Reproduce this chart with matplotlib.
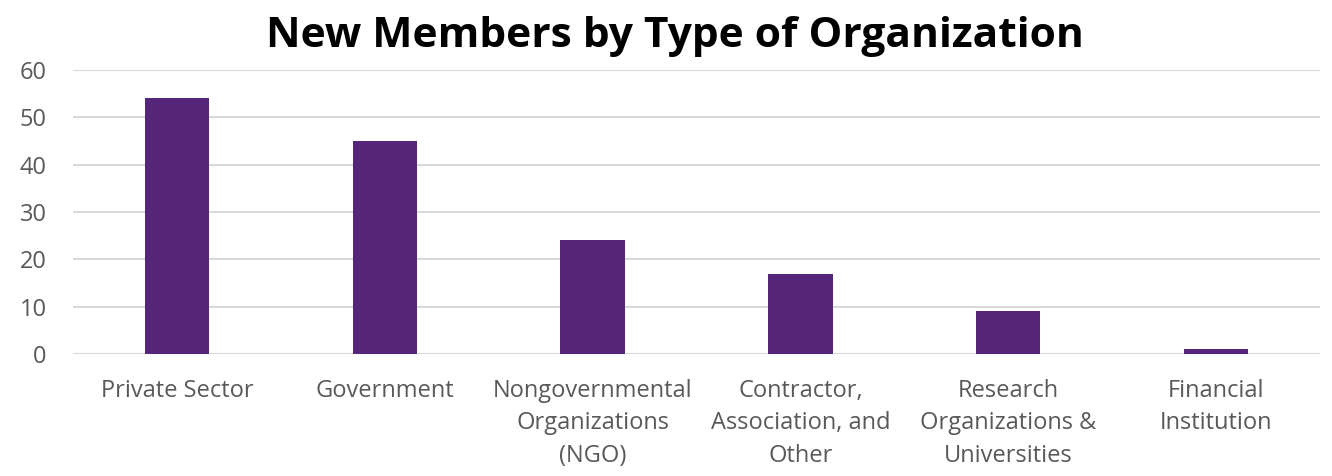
import numpy as np
import matplotlib.pyplot as plt

categories = ["Private Sector", "Government", "Nongovernmental\nOrganizations\n(NGO)",
              "Contractor,\nAssociation, and\nOther", "Research\nOrganizations &\nUniversities",
              "Financial\nInstitution"]
members = [54, 45, 24, 17, 9, 1]
yticks = [0, 10, 20, 30, 40, 50, 60]

plt.rcParams['font.family'] = ['Open Sans', 'DejaVu Sans']

fig = plt.figure(figsize=(13.32, 4.76), dpi=100)
ax = fig.add_axes([0.0548, 0.2563, 0.9362, 0.5967])

x = np.arange(len(categories))
ax.bar(x, members, width=0.31, color="#55267a", zorder=3)

ax.set_xlim(-0.5, len(categories) - 0.5)
ax.set_ylim(0, 60)
ax.set_yticks(yticks)
ax.set_xticks(x)
ax.set_xticklabels(categories, linespacing=1.47)
ax.grid(axis="y", color="#d9d9d9", linewidth=1.5, zorder=0)
for s in ax.spines.values():
    s.set_visible(False)
ax.tick_params(axis="both", length=0, labelsize=17, labelcolor="#595959")
ax.tick_params(axis="y", pad=19)
ax.tick_params(axis="x", pad=18)
for lbl in ax.get_yticklabels():
    lbl.set_horizontalalignment("right")

fig.text(0.5068, 0.924, "New Members by Type of Organization", ha="center", va="center",
         fontsize=30.6, fontweight="bold", color="black")

fig.savefig("out.png", dpi=100)
